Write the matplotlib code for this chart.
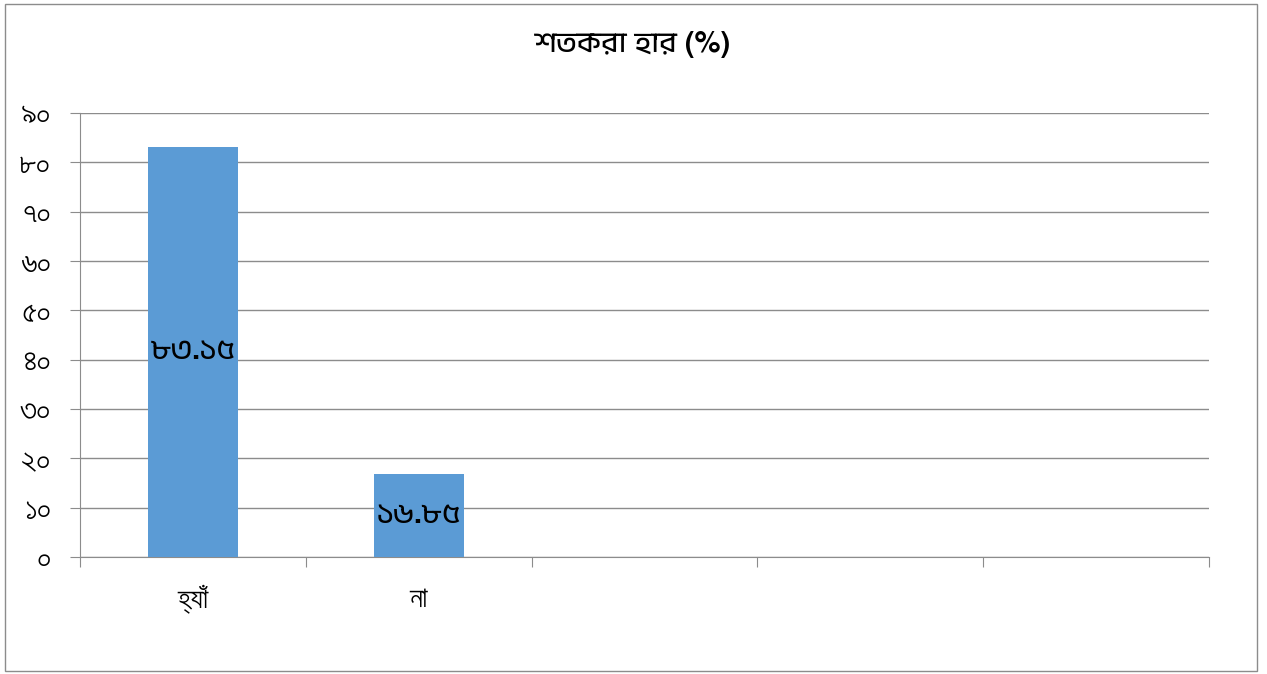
import matplotlib
matplotlib.use("Agg")
import matplotlib.pyplot as plt
from matplotlib import font_manager
from matplotlib.patches import Rectangle

# pick any installed font that can draw Bengali, then fall back to DejaVu
bn_fonts = []
for f in font_manager.fontManager.ttflist:
    name = f.name
    if any(k in name for k in ("Bengali", "Bangla", "Lohit", "FreeSans", "FreeSerif", "Kalpurush", "Solaiman", "Vrinda", "Mukti")):
        if name not in bn_fonts:
            bn_fonts.append(name)
plt.rcParams["font.family"] = bn_fonts + ["DejaVu Sans"]

categories = ["হ্যাঁ", "না", "", "", ""]
values = [83.15, 16.85]
y_ticks = [0, 10, 20, 30, 40, 50, 60, 70, 80, 90]

BN_DIGITS = str.maketrans("0123456789", "০১২৩৪৫৬৭৮৯")


def bn(s):
    return str(s).translate(BN_DIGITS)


fig = plt.figure(figsize=(12.67, 6.74), dpi=100)
ax = fig.add_axes([80 / 1267, 1 - 557 / 674, 1129 / 1267, 444 / 674])

grey = "#8c8c8c"
ax.bar(range(len(values)), values, width=0.4, color="#5B9BD5", zorder=3)
for i, v in enumerate(values):
    ax.text(i, v / 2, bn(f"{v:.2f}"), ha="center", va="center",
            fontsize=21, fontweight="bold", color="black", zorder=4)

ax.set_xlim(-0.5, len(categories) - 0.5)
ax.set_ylim(0, 90)
ax.set_yticks(y_ticks)
ax.set_yticklabels([bn(t) for t in y_ticks], fontsize=23)
ax.yaxis.grid(True, color=grey, linewidth=1)
ax.set_axisbelow(True)

ax.set_xticks([i - 0.5 for i in range(len(categories) + 1)])
ax.set_xticklabels([])
ax.set_xticks(range(len(categories)), minor=True)
ax.set_xticklabels(categories, minor=True, fontsize=21)
ax.tick_params(axis="x", which="major", length=7, color=grey)
ax.tick_params(axis="x", which="minor", length=0, pad=20)
ax.tick_params(axis="y", length=7, color=grey, pad=14)

for side in ("top", "right"):
    ax.spines[side].set_visible(False)
for side in ("left", "bottom"):
    ax.spines[side].set_color(grey)

fig.text(0.5, 1 - 45 / 674, "শতকরা হার (%)", ha="center", va="center",
         fontsize=21, fontweight="bold")

fig.patches.append(Rectangle((5 / 1267, 3 / 674), 1252 / 1267, 667 / 674,
                             transform=fig.transFigure, fill=False,
                             edgecolor=grey, linewidth=1))

fig.savefig("out.png", dpi=100)
